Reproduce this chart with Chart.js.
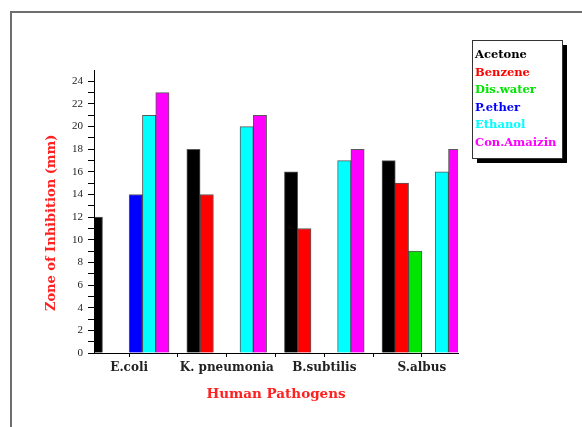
<!DOCTYPE html>
<html>
<head>
<meta charset="utf-8">
<script src="https://cdn.jsdelivr.net/npm/chart.js@4.4.1/dist/chart.umd.min.js"></script>
<style>
  html, body { margin: 0; padding: 0; background: #fff; }
  #wrap { position: relative; width: 582px; height: 427px; overflow: hidden; }
  #frame { position: absolute; left: 10px; top: 11px; width: 620px; height: 460px;
           border-top: 2px solid #6e6e6e; border-left: 2px solid #6e6e6e; }
  canvas { position: absolute; left: 0; top: 0; }
</style>
</head>
<body>
<div id="wrap">
  <div id="frame"></div>
  <canvas id="chart" width="582" height="427"></canvas>
</div>
<script>
// Zone of inhibition (mm) per pathogen for each extract
const pathogens = ['E.coli', 'K. pneumonia', 'B.subtilis', 'S.albus'];
const solvents = ['Acetone', 'Benzene', 'Dis.water', 'P.ether', 'Ethanol', 'Con.Amaizin'];
const acetone    = [12, 18, 16, 17];
const benzene    = [0, 14, 11, 15];
const disWater   = [0, 0, 0, 9];
const pEther     = [14, 0, 0, 0];
const ethanol    = [21, 20, 17, 16];
const conAmaizin = [23, 21, 18, 18];
const yTickValues = [0, 1, 2, 3, 4, 5, 6, 7, 8, 9, 10, 11, 12, 13, 14, 15, 16, 17, 18, 19, 20, 21, 22, 23, 24];
const yTickLabels = ['0', '2', '4', '6', '8', '10', '12', '14', '16', '18', '20', '22', '24'];

const seriesValues = [acetone, benzene, disWater, pEther, ethanol, conAmaizin];
const seriesColors = ['#000000', '#ff0000', '#00e600', '#0000ff', '#00ffff', '#ff00ff'];

const datasets = solvents.map((name, s) => ({
  label: name,
  data: seriesValues[s].map((v, i) => ({ x: i, y: v })),
  backgroundColor: seriesColors[s],
  borderColor: 'rgba(0,0,0,0.65)',
  borderWidth: 1,
  borderSkipped: 'start',
  barThickness: 13.3
}));

// Boxed legend with a drop shadow, to the right of the plot
const legendBox = {
  id: 'legendBox',
  afterDraw(chart) {
    const ctx = chart.ctx;
    const x = chart.chartArea.right + 14, y = 40, w = 90, h = 118;
    ctx.save();
    ctx.fillStyle = '#000';
    ctx.fillRect(x + 5, y + 5, w, h);
    ctx.fillStyle = '#fff';
    ctx.fillRect(x, y, w, h);
    ctx.strokeStyle = '#333';
    ctx.lineWidth = 1;
    ctx.strokeRect(x + 0.5, y + 0.5, w, h);
    ctx.font = 'bold 11.5px "DejaVu Serif"';
    ctx.textBaseline = 'middle';
    chart.data.datasets.forEach((ds, i) => {
      ctx.fillStyle = ds.backgroundColor;
      ctx.fillText(ds.label, x + 3, y + 15 + i * 17.6);
    });
    ctx.restore();
  }
};

new Chart(document.getElementById('chart'), {
  type: 'bar',
  data: { datasets },
  plugins: [legendBox],
  options: {
    responsive: false,
    animation: false,
    layout: { padding: { left: 40, right: 124, top: 70, bottom: 20 } },
    plugins: { legend: { display: false }, tooltip: { enabled: false } },
    scales: {
      x: {
        type: 'linear',
        offset: false,
        min: -0.36,
        max: 3.37,
        afterFit(scale) { scale.height = 54; },
        afterBuildTicks(scale) {
          scale.ticks = [0, 0.5, 1, 1.5, 2, 2.5, 3].map(v => ({ value: v }));
        },
        grid: { offset: false, drawOnChartArea: false, drawTicks: true, tickLength: 4, color: '#000' },
        border: { display: true, color: '#000', width: 1 },
        ticks: {
          autoSkip: false,
          maxRotation: 0,
          padding: 4,
          color: '#222',
          font: { family: '"DejaVu Serif"', size: 12, weight: 'bold' },
          callback: v => (Number.isInteger(v) ? pathogens[v] : '')
        },
        title: {
          display: true,
          text: 'Human Pathogens',
          color: '#ff2020',
          font: { family: '"DejaVu Serif"', size: 13.5, weight: 'bold' },
          padding: { top: 0, bottom: 4 }
        }
      },
      y: {
        min: 0,
        max: 25,
        afterFit(scale) { scale.width = 54; },
        afterBuildTicks(scale) {
          scale.ticks = yTickValues.map(v => ({ value: v }));
        },
        grid: { drawOnChartArea: false, drawTicks: true, tickLength: 6, color: '#000' },
        border: { display: true, color: '#000', width: 1 },
        ticks: {
          autoSkip: false,
          padding: 5,
          color: '#222',
          font: { family: '"Liberation Serif"', size: 11 },
          callback: v => (v % 2 === 0 ? yTickLabels[v / 2] : '')
        },
        title: {
          display: true,
          text: 'Zone of Inhibition (mm)     ',
          color: '#ff2020',
          font: { family: '"DejaVu Serif"', size: 13, weight: 'bold' },
          padding: { top: 4, bottom: 0 }
        }
      }
    }
  }
});
</script>
</body>
</html>
